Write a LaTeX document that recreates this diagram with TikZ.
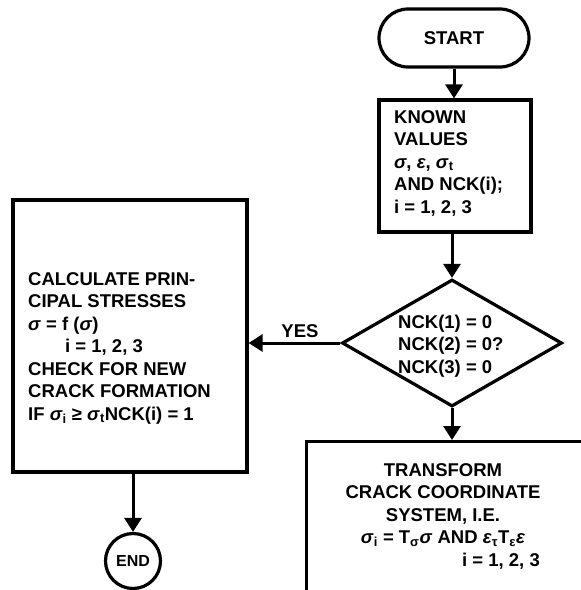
\documentclass[tikz,border=0pt]{standalone}
\usepackage{fontspec}
\setmainfont{Liberation Sans}
\usetikzlibrary{arrows.meta,shapes.misc,shapes.geometric}
\begin{document}
\begin{tikzpicture}[x=1pt,y=-1pt,
 box/.style={draw, line width=3.2pt, inner sep=0pt},
 lbl/.style={font=\bfseries\fontsize{18.5}{22.5}\selectfont, inner sep=0pt},
 conn/.style={line width=3pt, -{Triangle[width=17pt,length=14pt]}}]
\useasboundingbox (0,0) rectangle (581,590);
\clip (0,0) rectangle (581,590);
% nodes
\node[box, rounded rectangle, minimum width=150pt, minimum height=58pt, lbl] (start) at (454,38) {START};
\node[box, minimum width=152pt, minimum height=132pt] (known) at (455,166) {};
\node[lbl, anchor=west, align=left] (knowntxt) at (394,163) {KNOWN\\VALUES\\\textit{σ}, \textit{ε}, \textit{σ}\textsubscript{t}\\AND NCK(i);\\i = 1, 2, 3};
\node[box, diamond, minimum width=220pt, minimum height=127pt] (dec) at (452,343) {};
\node[lbl, anchor=west, align=left] (dectxt) at (398,346) {NCK(1) = 0\\NCK(2) = 0?\\NCK(3) = 0};
\node[box, minimum width=234pt, minimum height=272pt] (calc) at (130,336) {};
\node[lbl, anchor=west, align=left] (calctxt) at (28,348) {CALCULATE PRIN-\\CIPAL STRESSES\\\textit{σ} = f (\textit{σ})\\\hspace*{37pt}i = 1, 2, 3\\CHECK FOR NEW\\CRACK FORMATION\\IF \textit{σ}\textsubscript{i} ≥ \textit{σ}\textsubscript{t}NCK(i) = 1};
\node[box, minimum width=320pt, minimum height=200pt, anchor=north west] (trans) at (305,440) {};
\node[lbl, align=center] (transtxt) at (443,516) {TRANSFORM\\CRACK COORDINATE\\SYSTEM, I.E.\\\textit{σ}\textsubscript{i} = T\textsubscript{σ}\textit{σ} AND \textit{ε}\textsubscript{τ}T\textsubscript{ε}\textit{ε}\\\hspace*{116pt}i = 1, 2, 3};
\node[box, circle, minimum size=55pt, font=\bfseries\fontsize{16}{19}\selectfont] (fin) at (133,561) {END};
\node[lbl] (yes) at (300,331) {YES};
% connectors
\draw[conn] (start.south) -- (start.south |- known.north);
\draw[conn] (known.south -| dec.north) -- (dec.north);
\draw[conn] (dec.south) -- (dec.south |- trans.north);
\draw[conn] (dec.west) -- (dec.west -| calc.east);
\draw[conn] (calc.south -| fin.north) -- (fin.north);
\end{tikzpicture}
\end{document}
